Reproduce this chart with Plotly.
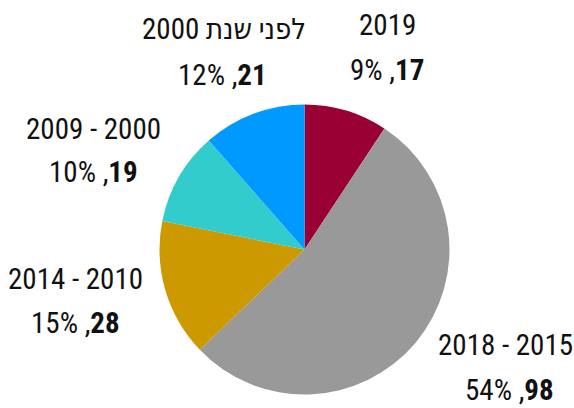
import plotly.graph_objects as go

# ---- data ----
categories = ["2019", "2018 - 2015", "2014 - 2010", "2009 - 2000", "לפני שנת 2000"]
counts = [17, 98, 28, 19, 21]
percents = [9, 54, 15, 10, 12]
colors = ["#990033", "#999999", "#CC9900", "#33CCCC", "#0099FF"]

W, H = 574, 408

# label centres in window pixels (line1 centre, line2 centre)
label_pos = [
    ((387, 25), (387.5, 69.5)),
    ((505, 344.5), (509, 390)),
    ((75, 278.5), (75, 323)),
    ((93.5, 128.5), (93.5, 172)),
    ((224, 29), (223, 75)),
]

FONT = "Roboto Condensed, Liberation Sans Narrow, DejaVu Sans Condensed, sans-serif"
FS = 29


def px(x, y):
    return x / W, 1 - y / H


cx, cy, r = 304.5, 249.5, 145
x0, y1 = px(cx - r, cy - r)
x1, y0 = px(cx + r, cy + r)

fig = go.Figure(
    go.Pie(
        labels=categories,
        values=counts,
        marker=dict(colors=colors, line=dict(width=0)),
        sort=False,
        direction="clockwise",
        rotation=0,
        textinfo="none",
        hoverinfo="skip",
        showlegend=False,
        domain=dict(x=[x0, x1], y=[y0, y1]),
    )
)

annotations = []
for cat, n, p, (l1, l2) in zip(categories, counts, percents, label_pos):
    ax1, ay1 = px(*l1)
    ax2, ay2 = px(*l2)
    annotations.append(dict(x=ax1, y=ay1, xref="paper", yref="paper", text=cat,
                            showarrow=False, xanchor="center", yanchor="middle",
                            font=dict(family=FONT, size=FS, color="#111111")))
    annotations.append(dict(x=ax2, y=ay2, xref="paper", yref="paper",
                            text=f"{p}% ,<b>{n}</b>",
                            showarrow=False, xanchor="center", yanchor="middle",
                            font=dict(family=FONT, size=FS, color="#111111")))

fig.update_layout(
    width=W, height=H,
    margin=dict(l=0, r=0, t=0, b=0),
    paper_bgcolor="white", plot_bgcolor="white",
    annotations=annotations,
)

fig.write_html(
    "out.html",
    config={"displayModeBar": False},
    post_script="document.body.style.margin='0';document.body.style.overflow='hidden';",
)
